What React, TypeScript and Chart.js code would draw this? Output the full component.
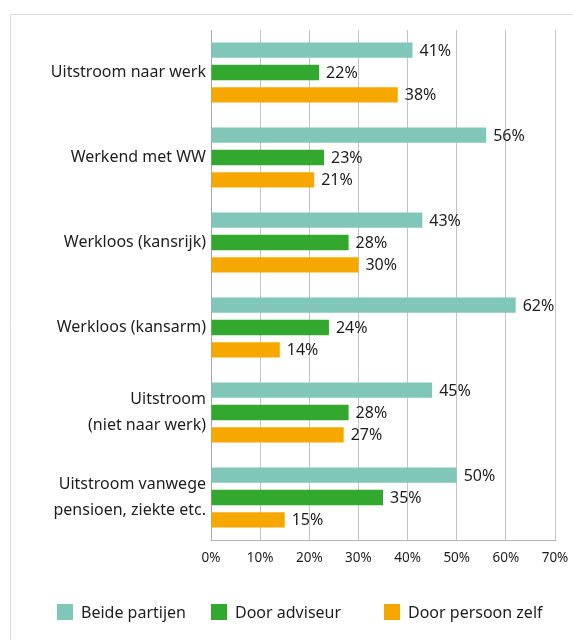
import React, { useEffect, useRef } from "react";
import { Chart, registerables } from "chart.js";

Chart.register(...registerables);

const categories: (string | string[])[] = [
  "Uitstroom naar werk",
  "Werkend met WW",
  "Werkloos (kansrijk)",
  "Werkloos (kansarm)",
  ["Uitstroom", "(niet naar werk)"],
  ["Uitstroom vanwege", "pensioen, ziekte etc."],
];
const seriesNames = ["Beide partijen", "Door adviseur", "Door persoon zelf"];
const beidePartijen = [41, 56, 43, 62, 45, 50];
const doorAdviseur = [22, 23, 28, 24, 28, 35];
const doorPersoonZelf = [38, 21, 30, 14, 27, 15];
const xTicks = [0, 10, 20, 30, 40, 50, 60, 70];
const colors = ["#80c7ba", "#33a82e", "#f6a800"];

const FONT = "'Noto Sans', sans-serif";
const TEXT = "#1e1e1e";

const legendX = [57, 211, 384];

export default function App() {
  const ref = useRef<HTMLCanvasElement | null>(null);
  useEffect(() => {
    if (!ref.current) return;
    const frame = {
      id: "frame",
      beforeDraw(chart: any) {
        const ctx = chart.ctx;
        ctx.save();
        ctx.strokeStyle = "#dcdcdc";
        ctx.lineWidth = 1;
        ctx.beginPath();
        ctx.moveTo(10.5, 640);
        ctx.lineTo(10.5, 14.5);
        ctx.lineTo(573, 14.5);
        ctx.stroke();
        ctx.restore();
      },
    };
    const labels = {
      id: "vals",
      afterDatasetsDraw(chart: any) {
        const ctx = chart.ctx;
        ctx.save();
        ctx.font = "16px " + FONT;
        ctx.fillStyle = TEXT;
        ctx.textBaseline = "middle";
        ctx.textAlign = "left";
        chart.data.datasets.forEach((ds: any, i: number) => {
          const meta = chart.getDatasetMeta(i);
          meta.data.forEach((bar: any, j: number) => {
            ctx.fillText(ds.data[j] + "%", bar.x + 7, bar.y + 1);
          });
        });
        ctx.restore();
      },
    };
    const legend = {
      id: "customLegend",
      afterDraw(chart: any) {
        const ctx = chart.ctx;
        ctx.save();
        ctx.font = "16px " + FONT;
        ctx.textBaseline = "middle";
        ctx.textAlign = "left";
        chart.data.datasets.forEach((ds: any, i: number) => {
          const x = legendX[i];
          ctx.fillStyle = ds.backgroundColor;
          ctx.fillRect(x, 604, 16, 16);
          ctx.fillStyle = TEXT;
          ctx.fillText(ds.label, x + 24, 613);
        });
        ctx.restore();
      },
    };
    const chart = new Chart(ref.current, {
      type: "bar",
      data: {
        labels: categories,
        datasets: [beidePartijen, doorAdviseur, doorPersoonZelf].map((d, i) => ({
          label: seriesNames[i],
          data: d,
          backgroundColor: colors[i],
          borderWidth: 0,
          categoryPercentage: 0.79,
          barPercentage: 0.69,
        })),
      },
      options: {
        indexAxis: "y",
        responsive: false,
        animation: false,
        layout: { padding: { top: 30, right: 18, left: 0, bottom: 0 } },
        plugins: { legend: { display: false }, tooltip: { enabled: false } },
        scales: {
          x: {
            min: 0,
            max: 70,
            afterBuildTicks: (scale: any) => {
              scale.ticks = xTicks.map((v) => ({ value: v }));
            },
            afterFit: (scale: any) => {
              scale.height = 100;
              scale.paddingLeft = 0;
              scale.paddingRight = 0;
            },
            grid: { color: "#c4c4c4", drawTicks: false, lineWidth: 1 },
            border: { color: "#b4b4b4" },
            ticks: {
              padding: 10,
              color: TEXT,
              font: { family: FONT, size: 13.5 },
              callback: (v: any) => v + "%",
            },
          },
          y: {
            afterFit: (scale: any) => {
              scale.width = 211;
              scale.paddingTop = 0;
              scale.paddingBottom = 0;
            },
            grid: { display: false, drawTicks: false },
            border: { color: "#a8a8a8" },
            ticks: {
              padding: 5,
              color: TEXT,
              font: { family: FONT, size: 16, lineHeight: 1.6 },
            },
          },
        },
      },
      plugins: [frame, labels, legend],
    } as any);
    return () => chart.destroy();
  }, []);
  return (
    <div style={{ position: "fixed", left: 0, top: 0, width: 573, height: 640, background: "#fff" }}>
      <canvas ref={ref} width={573} height={640} />
    </div>
  );
}
